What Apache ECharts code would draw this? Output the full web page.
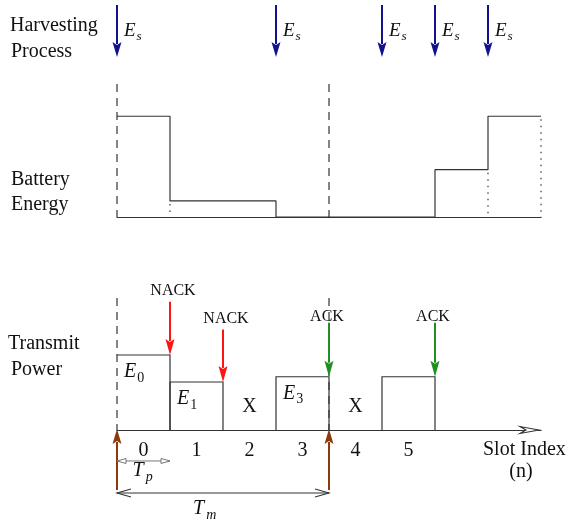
<!DOCTYPE html>
<html><head><meta charset="utf-8">
<script src="https://cdn.jsdelivr.net/npm/echarts@6/dist/echarts.min.js"></script>
<style>html,body{margin:0;padding:0;background:#fff}#c{width:568px;height:520px}</style>
</head><body><div id="c"></div>
<script>
// ---------------- data ----------------
const slotLabels = ['0', '1', '2', '3', '4', '5'];
const harvestSlots = [0, 3, 5, 6, 7];                          // E_s arrivals (slot boundaries)
const batteryLevels = [1.0, 0.16, 0.16, 0, 0, 0, 0.47, 1.0];   // battery energy per slot
const batteryDotted = [1, 7, 8];                               // dotted boundary markers
const txPower = [1.0, 0.64, null, 0.71, null, 0.71];           // transmit power per slot (null = X)
const txSub = ['0', '1', null, '3', null, null];               // E subscripts
const feedbackSlots = [1, 2, 4, 6];
const feedbackTypes = ['NACK', 'NACK', 'ACK', 'ACK'];
const feedbackTop = [1.71, 1.34, 1.43, 1.43];
const frameStarts = [0, 4];
const TpSpan = [0, 1];
const TmSpan = [0, 4];

// ---------------- style ----------------
const SERIF = '"Liberation Serif", "DejaVu Serif", serif';
const INK = '#333';
const NAVY = '#12128c';
const RED = '#ff1414';
const GREEN = '#1f8f1f';
const BROWN = '#8b3a0e';

function arrowEls(x1, y1, x2, y2, color, lw, hl, hw) {
  const dx = x2 - x1, dy = y2 - y1, L = Math.hypot(dx, dy), ux = dx / L, uy = dy / L;
  const bx = x2 - ux * hl, by = y2 - uy * hl;
  const a = [bx - uy * hw, by + ux * hw], b = [bx + uy * hw, by - ux * hw];
  return [
    { type: 'line', shape: { x1, y1, x2: bx + ux * 2, y2: by + uy * 2 }, style: { stroke: color, lineWidth: lw } },
    { type: 'polygon', shape: { points: [[x2, y2], a, [bx + ux * 3, by + uy * 3], b] }, style: { fill: color } }
  ];
}
function txt(x, y, s, size, opt) {
  opt = opt || {};
  return { type: 'text', x, y, style: Object.assign({ text: s, fontSize: size, fontFamily: SERIF, fill: '#111', align: 'left', verticalAlign: 'middle' }, opt) };
}
function mathSym(x, y, main, sub, size) {
  const digit = /^[0-9]+$/.test(sub);
  return [
    txt(x, y, main, size, { fontStyle: 'italic' }),
    txt(x + size * 0.66, y + size * 0.3, sub, size * 0.7, { fontStyle: digit ? 'normal' : 'italic' })
  ];
}

const chart = echarts.init(document.getElementById('c'), null, { renderer: 'canvas' });

const gridL = 117, gridW = 424;

chart.setOption({
  animation: false,
  backgroundColor: '#fff',
  grid: [
    { left: gridL, width: gridW, top: 5, height: 52, outerBoundsMode: 'none', containLabel: false },      // harvesting
    { left: gridL, width: gridW, top: 84, height: 133, outerBoundsMode: 'none', containLabel: false },    // battery
    { left: gridL, width: gridW, top: 295, height: 135, outerBoundsMode: 'none', containLabel: false }    // transmit
  ],
  xAxis: [
    { gridIndex: 0, type: 'value', min: 0, max: 8, show: false },
    { gridIndex: 1, type: 'value', min: 0, max: 8, axisLine: { show: true, lineStyle: { color: INK, width: 1.2 } },
      axisTick: { show: false }, axisLabel: { show: false }, splitLine: { show: false } },
    { gridIndex: 2, type: 'value', min: 0, max: 8, interval: 0.5,
      axisLine: { show: true, lineStyle: { color: INK, width: 1.2 } },
      axisTick: { show: false }, splitLine: { show: false },
      axisLabel: { margin: 11, fontSize: 20, fontFamily: SERIF, color: '#111', hideOverlap: false,
        formatter: v => { const k = v - 0.5; return (Number.isInteger(k) && slotLabels[k] !== undefined) ? slotLabels[k] : ''; } } }
  ],
  yAxis: [
    { gridIndex: 0, type: 'value', min: 0, max: 1, show: false },
    { gridIndex: 1, type: 'value', min: 0, max: 1.32, show: false },
    { gridIndex: 2, type: 'value', min: 0, max: 1.8, show: false }
  ],
  graphic: [
    txt(10, 26, 'Harvesting', 20),
    txt(11, 52, 'Process', 20),
    txt(11, 180, 'Battery', 20),
    txt(11, 205, 'Energy', 20),
    txt(8, 344, 'Transmit', 20),
    txt(11, 370, 'Power', 20),
    txt(483, 450, 'Slot Index', 20),
    txt(521, 472, '(n)', 20, { align: 'center' })
  ],
  series: [
    // harvesting arrows
    { type: 'custom', xAxisIndex: 0, yAxisIndex: 0, data: harvestSlots.map(x => [x, 1]),
      renderItem: (p, api) => {
        const x = api.value(0);
        const a = api.coord([x, 1]), b = api.coord([x, 0]);
        return { type: 'group', children: arrowEls(a[0], a[1], b[0], b[1], NAVY, 2, 15, 4.5)
          .concat(mathSym(a[0] + 7, 31, 'E', 's', 19)) };
      } },
    // battery dashed frame lines
    { type: 'custom', xAxisIndex: 1, yAxisIndex: 1, data: frameStarts.map(x => [x, 1.32]),
      renderItem: (p, api) => {
        const x = api.value(0);
        const a = api.coord([x, 1.32]), b = api.coord([x, 0]);
        return { type: 'line', shape: { x1: a[0], y1: a[1], x2: b[0], y2: b[1] }, style: { stroke: INK, lineWidth: 1.2, lineDash: [8, 6] } };
      } },
    // battery dotted markers
    { type: 'custom', xAxisIndex: 1, yAxisIndex: 1,
      data: batteryDotted.map(x => [x, Math.min(batteryLevels[x - 1], batteryLevels[x] !== undefined ? batteryLevels[x] : batteryLevels[x - 1])]),
      renderItem: (p, api) => {
        const x = api.value(0), h = api.value(1);
        const a = api.coord([x, h]), b = api.coord([x, 0]);
        return { type: 'line', shape: { x1: a[0], y1: a[1] + 3, x2: b[0], y2: b[1] }, style: { stroke: '#444', lineWidth: 1.3, lineDash: [1.5, 5] } };
      } },
    // battery level (step line)
    { type: 'line', xAxisIndex: 1, yAxisIndex: 1, step: 'end', symbol: 'none',
      data: batteryLevels.map((v, i) => [i, v]).concat([[batteryLevels.length, batteryLevels[batteryLevels.length - 1]]]),
      lineStyle: { color: INK, width: 1.2 } },
    // transmit dashed frame lines
    { type: 'custom', xAxisIndex: 2, yAxisIndex: 2, data: frameStarts.map(x => [x, 1.76]),
      renderItem: (p, api) => {
        const x = api.value(0);
        const a = api.coord([x, 1.76]), b = api.coord([x, 0]);
        return { type: 'line', shape: { x1: a[0], y1: a[1], x2: b[0], y2: b[1] }, style: { stroke: INK, lineWidth: 1.2, lineDash: [8, 6] } };
      } },
    // transmit boxes
    { type: 'custom', xAxisIndex: 2, yAxisIndex: 2, data: txPower.map((v, i) => [i, v === null ? 0 : v, v === null ? 1 : 0]),
      renderItem: (p, api) => {
        const i = api.value(0), v = api.value(1), isX = api.value(2);
        const c = api.coord([i + 0.5, 0]);
        if (isX) return txt(c[0], c[1] - 23, 'X', 20, { align: 'center' });
        const pts = [];
        if (i > 0) pts.push(api.coord([i, 0]));
        pts.push(api.coord([i, v]), api.coord([i + 1, v]), api.coord([i + 1, 0]));
        const ch = [{ type: 'polyline', shape: { points: pts }, style: { stroke: INK, lineWidth: 1.2, fill: 'none' } }];
        const sub = txSub[i];
        if (sub !== null) {
          const tl = api.coord([i, v]);
          ch.push.apply(ch, mathSym(tl[0] + 7, tl[1] + 17, 'E', sub, 20));
        }
        return { type: 'group', children: ch };
      } },
    // feedback arrows
    { type: 'custom', xAxisIndex: 2, yAxisIndex: 2, data: feedbackSlots.map((x, k) => [x, feedbackTop[k], txPower[x - 1], k]),
      renderItem: (p, api) => {
        const x = api.value(0), top = api.value(1), end = api.value(2), k = api.value(3);
        const type = feedbackTypes[k];
        const col = type === 'ACK' ? GREEN : RED;
        const a = api.coord([x, top]), b = api.coord([x, end]);
        const ch = arrowEls(a[0], a[1], b[0], b[1], col, 2, 16, 4.5);
        ch.push(txt(a[0] + (type === 'ACK' ? -2 : 3), a[1] - (type === 'ACK' ? 6 : 11), type, 16, { align: 'center' }));
        return { type: 'group', children: ch };
      } },
    // frame start (brown) arrows
    { type: 'custom', xAxisIndex: 2, yAxisIndex: 2, data: frameStarts.map(x => [x, -0.8]),
      renderItem: (p, api) => {
        const x = api.value(0);
        const a = api.coord([x, -0.8]), b = api.coord([x, 0]);
        return { type: 'group', children: arrowEls(a[0], a[1], b[0], b[1] - 1, BROWN, 2, 15, 4.5) };
      } },
    // axis arrow head
    { type: 'custom', xAxisIndex: 2, yAxisIndex: 2, data: [[8, 0]],
      renderItem: (p, api) => {
        const e = api.coord([8, 0]);
        return { type: 'polygon', shape: { points: [[e[0] - 2, e[1]], [e[0] - 21, e[1] - 3.5], [e[0] - 15, e[1]], [e[0] - 21, e[1] + 3.5]] },
          style: { fill: '#fff', stroke: INK, lineWidth: 1.1 } };
      } },
    // T_p and T_m spans
    { type: 'custom', xAxisIndex: 2, yAxisIndex: 2, data: [[TpSpan[0], TpSpan[1], -0.413, 0], [TmSpan[0], TmSpan[1], -0.84, 1]],
      renderItem: (p, api) => {
        const x0 = api.value(0), x1 = api.value(1), y = api.value(2), k = api.value(3);
        const a = api.coord([x0, y]), b = api.coord([x1, y]);
        const ch = [];
        if (k === 0) {
          const col = '#777';
          ch.push({ type: 'line', shape: { x1: a[0], y1: a[1], x2: b[0], y2: b[1] }, style: { stroke: col, lineWidth: 1 } });
          ch.push({ type: 'polygon', shape: { points: [[a[0], a[1]], [a[0] + 9, a[1] - 2.5], [a[0] + 9, a[1] + 2.5]] }, style: { fill: '#fff', stroke: col, lineWidth: 1 } });
          ch.push({ type: 'polygon', shape: { points: [[b[0], b[1]], [b[0] - 9, b[1] - 2.5], [b[0] - 9, b[1] + 2.5]] }, style: { fill: '#fff', stroke: col, lineWidth: 1 } });
          ch.push.apply(ch, mathSym((a[0] + b[0]) / 2 - 11, a[1] + 10, 'T', 'p', 20));
        } else {
          const col = INK;
          ch.push({ type: 'line', shape: { x1: a[0], y1: a[1], x2: b[0], y2: b[1] }, style: { stroke: col, lineWidth: 1.1 } });
          ch.push({ type: 'polyline', shape: { points: [[a[0] + 14, a[1] - 4], [a[0], a[1]], [a[0] + 14, a[1] + 4]] }, style: { stroke: col, lineWidth: 1.1, fill: 'none' } });
          ch.push({ type: 'polyline', shape: { points: [[b[0] - 14, b[1] - 4], [b[0], b[1]], [b[0] - 14, b[1] + 4]] }, style: { stroke: col, lineWidth: 1.1, fill: 'none' } });
          ch.push.apply(ch, mathSym((a[0] + b[0]) / 2 - 30, a[1] + 16, 'T', 'm', 20));
        }
        return { type: 'group', children: ch };
      } }
  ]
});
</script>
</body></html>
